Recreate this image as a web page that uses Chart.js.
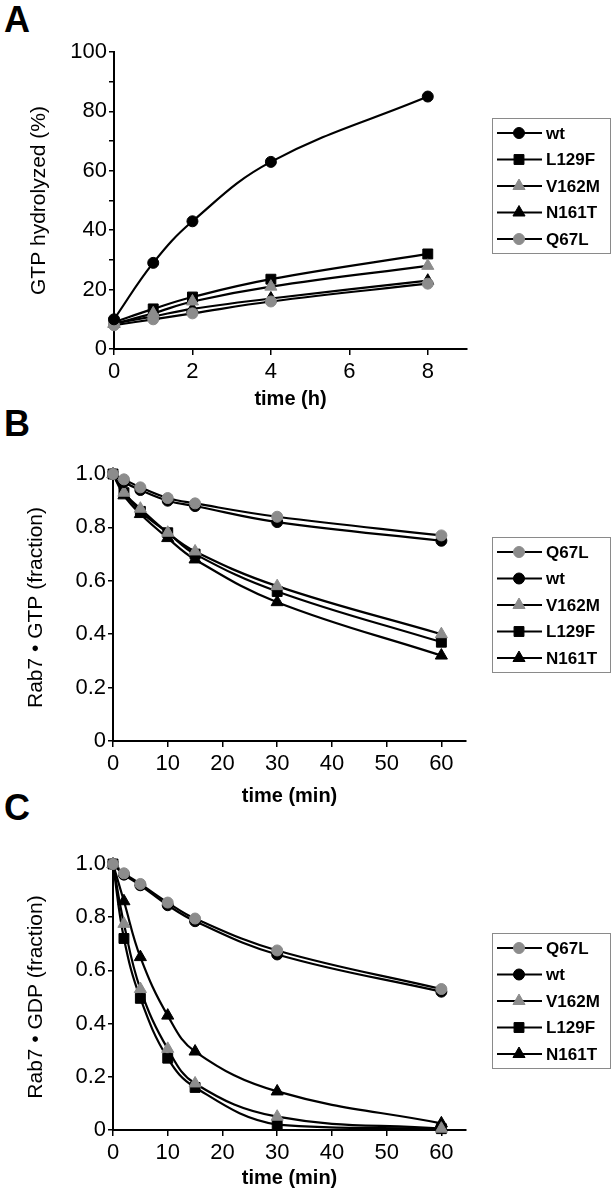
<!DOCTYPE html>
<html>
<head>
<meta charset="utf-8">
<script src="https://cdn.jsdelivr.net/npm/chart.js@4.4.0/dist/chart.umd.min.js"></script>
<style>
  body { margin: 0; background: #fff; width: 613px; height: 1199px; position: relative; overflow: hidden; }
  canvas { position: absolute; left: 0; }
  .tag { position: absolute; left: 4px; font: bold 36px/36px "Liberation Sans", Arial, sans-serif; color: #000; }
</style>
</head>
<body>
<div class="tag" style="top:2px">A</div>
<div class="tag" style="top:406px">B</div>
<div class="tag" style="top:790px">C</div>
<canvas id="chartA" width="613" height="415" style="top:0"></canvas>
<canvas id="chartB" width="613" height="395" style="top:415px"></canvas>
<canvas id="chartC" width="613" height="389" style="top:810px"></canvas>
<script>
// panel A: GTP hydrolysis over hours
const timeA = [0, 1, 2, 4, 8];
const wtA    = [10, 29, 43, 63, 85];
const l129fA = [9, 13.5, 17.5, 23.5, 32];
const v162mA = [8.5, 12, 16, 21, 28];
const n161tA = [8.5, 11, 13.5, 17, 23];
const q67lA  = [8, 10, 12, 16, 22];

// panels B and C share the time points (min)
const timeBC = [0, 2, 5, 10, 15, 30, 60];
const q67lB  = [1.0, 0.98, 0.95, 0.91, 0.89, 0.84, 0.77];
const wtB    = [1.0, 0.97, 0.94, 0.90, 0.88, 0.82, 0.75];
const v162mB = [1.0, 0.93, 0.87, 0.78, 0.71, 0.58, 0.40];
const l129fB = [1.0, 0.93, 0.86, 0.78, 0.70, 0.56, 0.37];
const n161tB = [1.0, 0.92, 0.85, 0.76, 0.68, 0.52, 0.32];

const q67lC  = [1.0, 0.965, 0.925, 0.855, 0.795, 0.675, 0.53];
const wtC    = [1.0, 0.96, 0.92, 0.845, 0.785, 0.66, 0.52];
const v162mC = [1.0, 0.775, 0.53, 0.305, 0.175, 0.05, 0.005];
const l129fC = [1.0, 0.72, 0.495, 0.27, 0.16, 0.02, 0.005];
const n161tC = [1.0, 0.86, 0.65, 0.43, 0.295, 0.145, 0.025];

const yTicksA = [0, 20, 40, 60, 80, 100];

const FONT = '"Liberation Sans", Arial, Helvetica, sans-serif';
const GRAY = '#8c8c8c';
const looks = {
  'wt':    { shape: 'circle',   color: '#000', r: 5.5 },
  'L129F': { shape: 'rect',     color: '#000', r: 7 },
  'V162M': { shape: 'triangle', color: GRAY,   r: 7 },
  'N161T': { shape: 'triangle', color: '#000', r: 7 },
  'Q67L':  { shape: 'circle',   color: GRAY,   r: 5.5 }
};

function series(name, xs, ys, order) {
  const lk = looks[name];
  return {
    label: name,
    data: xs.map((x, i) => ({ x: x, y: ys[i] })),
    borderColor: '#000',
    borderWidth: 2.2,
    backgroundColor: lk.color,
    pointStyle: lk.shape,
    pointRadius: lk.r,
    pointHoverRadius: lk.r,
    pointBackgroundColor: lk.color,
    pointBorderColor: lk.color,
    pointBorderWidth: 1,
    tension: 0.4,
    clip: 12,
    order: order
  };
}

// legend drawn as a framed box with line + marker samples
const boxLegend = {
  id: 'boxLegend',
  afterDraw(chart, args, opts) {
    const ctx = chart.ctx;
    const x = opts.left, y = opts.top;
    ctx.save();
    ctx.strokeStyle = '#8a8a8a';
    ctx.lineWidth = 1;
    ctx.strokeRect(x + 0.5, y + 0.5, 118, 135);
    chart.data.datasets.forEach((ds, i) => {
      const cy = y + 15 + i * 26.5;
      ctx.strokeStyle = '#000';
      ctx.lineWidth = 2.2;
      ctx.beginPath();
      ctx.moveTo(x + 5, cy);
      ctx.lineTo(x + 50, cy);
      ctx.stroke();
      ctx.fillStyle = ds.pointBackgroundColor;
      ctx.strokeStyle = ds.pointBorderColor;
      ctx.lineWidth = 1;
      Chart.helpers.drawPoint(ctx, { pointStyle: ds.pointStyle, radius: ds.pointRadius, rotation: 0, borderWidth: 1 }, x + 27, cy);
      ctx.fillStyle = '#000';
      ctx.font = 'bold 17px ' + FONT;
      ctx.textBaseline = 'middle';
      ctx.textAlign = 'left';
      ctx.fillText(ds.label, x + 54, cy + 1);
    });
    ctx.restore();
  }
};

function makeChart(id, cfg) {
  return new Chart(document.getElementById(id), {
    type: 'line',
    data: { datasets: cfg.datasets },
    plugins: [boxLegend],
    options: {
      responsive: false,
      animation: false,
      devicePixelRatio: 1,
      layout: { padding: { left: 22, right: 613 - cfg.right, top: cfg.top, bottom: 0 } },
      plugins: {
        legend: { display: false },
        tooltip: { enabled: false },
        boxLegend: { left: 492, top: cfg.legendTop }
      },
      scales: {
        x: {
          type: 'linear',
          min: 0,
          max: cfg.xMax,
          border: { display: true, color: '#000', width: 2 },
          grid: { drawOnChartArea: false, drawTicks: true, tickLength: 6, color: '#000', lineWidth: 1.5 },
          ticks: { stepSize: cfg.xStep, includeBounds: false, autoSkip: false, maxRotation: 0, color: '#000', padding: 4, font: { family: FONT, size: 22 } },
          title: { display: true, text: cfg.xTitle, color: '#000', font: { family: FONT, size: 20, weight: 'bold' }, padding: { top: 0, bottom: cfg.xTitlePad } },
          afterFit(s) { s.height = cfg.xHeight; }
        },
        y: {
          min: 0,
          max: cfg.yMax,
          border: { display: true, color: '#000', width: 2 },
          grid: { drawOnChartArea: false, drawTicks: true, tickLength: 5, color: '#000', lineWidth: 1.5 },
          ticks: { stepSize: cfg.yStep, autoSkip: false, color: '#000', padding: 2, font: { family: FONT, size: 22 }, callback: cfg.yLabel },
          title: { display: true, text: cfg.yTitle, color: '#000', font: { family: FONT, size: 21 }, padding: { top: cfg.yTitlePad, bottom: 0 } },
          afterFit(s) { s.width = cfg.left - 22; }
        }
      }
    }
  });
}

const fracLabel = v => (v === 0 ? '0' : Number(v).toFixed(1));

makeChart('chartA', {
  datasets: [
    series('wt', timeA, wtA, 0),
    series('L129F', timeA, l129fA, 3),
    series('V162M', timeA, v162mA, 2),
    series('N161T', timeA, n161tA, 4),
    series('Q67L', timeA, q67lA, 1)
  ],
  left: 114, right: 467, top: 52, xHeight: 66, xMax: 9, xStep: 2,
  xTitle: 'time (h)', xTitlePad: 4,
  yMax: 100, yStep: 10, yLabel: v => (yTicksA.includes(v) ? String(v) : ''),
  yTitle: 'GTP hydrolyzed (%)', yTitlePad: 5,
  legendTop: 118
});

makeChart('chartB', {
  datasets: [
    series('Q67L', timeBC, q67lB, 0),
    series('wt', timeBC, wtB, 1),
    series('V162M', timeBC, v162mB, 2),
    series('L129F', timeBC, l129fB, 3),
    series('N161T', timeBC, n161tB, 4)
  ],
  left: 113, right: 466, top: 59, xHeight: 69, xMax: 64.5, xStep: 10,
  xTitle: 'time (min)', xTitlePad: 2,
  yMax: 1, yStep: 0.2, yLabel: fracLabel,
  yTitle: 'Rab7 \u2022 GTP (fraction)', yTitlePad: 2,
  legendTop: 122
});

makeChart('chartC', {
  datasets: [
    series('Q67L', timeBC, q67lC, 0),
    series('wt', timeBC, wtC, 1),
    series('V162M', timeBC, v162mC, 2),
    series('L129F', timeBC, l129fC, 3),
    series('N161T', timeBC, n161tC, 4)
  ],
  left: 113, right: 466, top: 54, xHeight: 69, xMax: 64.5, xStep: 10,
  xTitle: 'time (min)', xTitlePad: 9,
  yMax: 1, yStep: 0.2, yLabel: fracLabel,
  yTitle: 'Rab7 \u2022 GDP (fraction)', yTitlePad: 2,
  legendTop: 123
});
</script>
</body>
</html>
